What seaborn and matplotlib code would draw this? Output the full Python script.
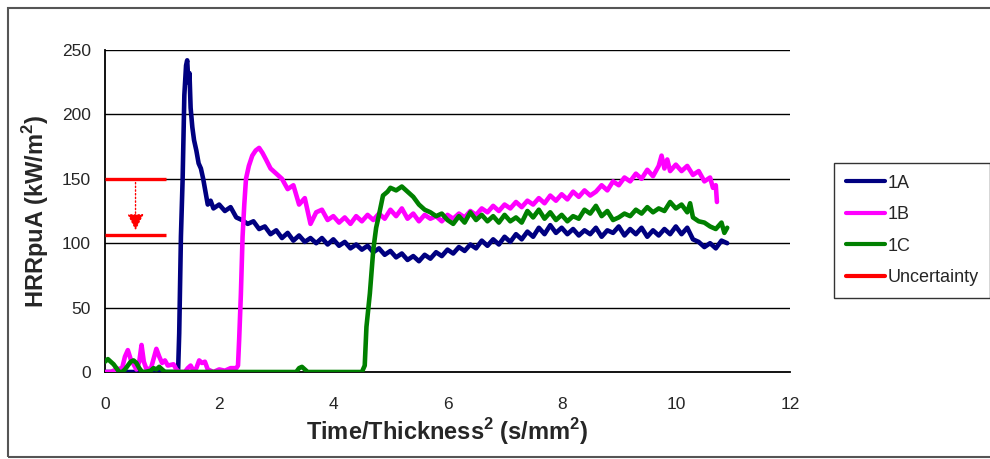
import numpy as np
import pandas as pd
import matplotlib
matplotlib.use("Agg")
import matplotlib.pyplot as plt
from matplotlib.patches import Rectangle
from matplotlib.lines import Line2D
import seaborn as sns

# ---------------- data ----------------
t_1a = [0.0, 0.5, 1.0, 1.28, 1.30, 1.33, 1.36, 1.39, 1.42, 1.44, 1.46, 1.48, 1.50, 1.53, 1.56,
        1.60, 1.64, 1.68, 1.72, 1.76, 1.80, 1.85, 1.90, 2.0,
        2.1, 2.2, 2.3, 2.4, 2.5, 2.6, 2.7, 2.8, 2.9, 3.0, 3.1, 3.2, 3.3, 3.4, 3.5, 3.6, 3.7, 3.8, 3.9,
        4.0, 4.1, 4.2, 4.3, 4.4, 4.5, 4.6, 4.7, 4.8, 4.9, 5.0, 5.1, 5.2, 5.3, 5.4, 5.5, 5.6, 5.7, 5.8,
        5.9, 6.0, 6.1, 6.2, 6.3, 6.4, 6.5, 6.6, 6.7, 6.8, 6.9, 7.0, 7.1, 7.2, 7.3, 7.4, 7.5, 7.6, 7.7,
        7.8, 7.9, 8.0, 8.1, 8.2, 8.3, 8.4, 8.5, 8.6, 8.7, 8.8, 8.9, 9.0, 9.1, 9.2, 9.3, 9.4, 9.5, 9.6,
        9.7, 9.8, 9.9, 10.0, 10.1, 10.2, 10.3, 10.4, 10.5, 10.6, 10.7, 10.8, 10.9]
v_1a = [0, 0, 0, 0, 30, 105, 150, 215, 238, 242, 225, 232, 205, 190, 180,
        172, 162, 158, 150, 140, 130, 133, 127, 130,
        125, 128, 120, 118, 115, 117, 111, 113, 107, 110, 104, 108, 102, 106, 101, 104, 100, 104, 99,
        103, 98, 101, 96, 99, 95, 98, 93, 96, 91, 94, 89, 92, 87, 90, 86, 91, 88, 93, 90,
        95, 92, 97, 94, 99, 96, 102, 98, 103, 99, 105, 101, 107, 103, 109, 105, 112, 107,
        114, 108, 112, 107, 111, 106, 110, 107, 112, 105, 110, 108, 113, 106, 111, 107, 112, 105, 110,
        106, 111, 107, 113, 107, 112, 103, 101, 97, 100, 96, 102, 100]

t_1b = [0.0, 0.1, 0.2, 0.3, 0.35, 0.4, 0.45, 0.5, 0.55, 0.6, 0.64, 0.68, 0.72, 0.8, 0.85, 0.9, 0.95,
        1.0, 1.05, 1.1, 1.2, 1.25, 1.3, 1.4, 1.45, 1.5, 1.55, 1.6, 1.65, 1.7, 1.75, 1.8, 1.9, 2.0,
        2.1, 2.2, 2.3, 2.33, 2.35, 2.38, 2.41, 2.44, 2.47, 2.52, 2.58, 2.64, 2.70, 2.76, 2.82, 2.9,
        3.0, 3.1, 3.2, 3.3, 3.4, 3.5, 3.6, 3.7, 3.8, 3.9, 4.0, 4.1, 4.2, 4.3, 4.4, 4.5, 4.6, 4.7,
        4.8, 4.9, 5.0, 5.1, 5.2, 5.3, 5.4, 5.5, 5.6, 5.7, 5.8, 5.9, 6.0, 6.1, 6.2, 6.3, 6.4, 6.5,
        6.6, 6.7, 6.8, 6.9, 7.0, 7.1, 7.2, 7.3, 7.4, 7.5, 7.6, 7.7, 7.8, 7.9, 8.0, 8.1, 8.2, 8.3,
        8.4, 8.5, 8.6, 8.7, 8.8, 8.9, 9.0, 9.1, 9.2, 9.3, 9.4, 9.5, 9.6, 9.7, 9.75, 9.8, 9.85, 9.9,
        10.0, 10.1, 10.2, 10.3, 10.4, 10.5, 10.6, 10.65, 10.7, 10.72]
v_1b = [0, 0, 2, 3, 12, 17, 10, 6, 2, 8, 21, 8, 3, 2, 10, 18, 12,
        7, 9, 5, 6, 2, 0, 0, 3, 5, 1, 3, 9, 7, 8, 2, 0, 2,
        1, 3, 3, 5, 25, 60, 105, 130, 150, 160, 168, 172, 174, 170, 165, 158,
        154, 150, 142, 145, 130, 135, 115, 124, 126, 118, 121, 116, 120, 115, 121, 117, 122, 118,
        123, 119, 126, 121, 127, 119, 123, 117, 122, 119, 121, 117, 122, 119, 123, 120, 125, 122,
        127, 124, 129, 125, 130, 127, 132, 128, 133, 130, 135, 131, 137, 133, 138, 134, 140, 136,
        141, 137, 140, 145, 141, 148, 145, 151, 148, 154, 150, 157, 152, 160, 168, 158, 165, 156,
        161, 156, 160, 153, 156, 148, 151, 143, 145, 132]

t_1c = [0.0, 0.05, 0.1, 0.15, 0.2, 0.25, 0.3, 0.35, 0.4, 0.45, 0.5, 0.55, 0.6, 0.65, 0.7, 0.8,
        0.85, 0.9, 0.95, 1.0, 1.05, 1.1, 3.35, 3.4, 3.45, 3.5, 3.55, 4.5, 4.55, 4.58, 4.64, 4.70,
        4.75, 4.8, 4.87, 4.95, 5.0, 5.1, 5.2, 5.3, 5.4, 5.5, 5.6, 5.7, 5.8, 5.9, 6.0, 6.1, 6.2, 6.3,
        6.4, 6.5, 6.6, 6.7, 6.8, 6.9, 7.0, 7.1, 7.2, 7.3, 7.4, 7.5, 7.6, 7.7, 7.8, 7.9, 8.0, 8.1,
        8.2, 8.3, 8.4, 8.5, 8.6, 8.7, 8.8, 8.9, 9.0, 9.1, 9.2, 9.3, 9.4, 9.5, 9.6, 9.7, 9.8, 9.9,
        10.0, 10.1, 10.2, 10.25, 10.3, 10.4, 10.5, 10.6, 10.7, 10.8, 10.85, 10.9]
v_1c = [8, 10, 8, 6, 3, 0, 0, 2, 5, 8, 9, 7, 3, 0, 0, 1,
        3, 2, 4, 2, 0, 0, 0, 3, 4, 2, 0, 0, 5, 35, 61, 95,
        112, 122, 137, 140, 143, 141, 144, 140, 136, 130, 126, 124, 121, 123, 118, 115, 121, 116,
        124, 118, 122, 117, 121, 116, 122, 117, 120, 116, 125, 120, 126, 119, 124, 118, 122, 117,
        121, 119, 126, 123, 129, 121, 125, 118, 120, 123, 121, 126, 123, 128, 124, 127, 125, 132,
        127, 130, 124, 131, 120, 117, 116, 113, 111, 116, 108, 112]

series_names = ["1A", "1B", "1C"]
series_colors = ["#000080", "#FF00FF", "#008000"]
unc_upper = 150
unc_lower = 106
unc_x_end = 1.07

x_ticks = [0, 2, 4, 6, 8, 10, 12]
y_ticks = [0, 50, 100, 150, 200, 250]

# ---------------- plot ----------------
sns.set_style("white")
plt.rcParams["font.family"] = ["Liberation Sans", "DejaVu Sans"]

df = pd.concat([
    pd.DataFrame({"t": t_1a, "v": v_1a, "s": "1A"}),
    pd.DataFrame({"t": t_1b, "v": v_1b, "s": "1B"}),
    pd.DataFrame({"t": t_1c, "v": v_1c, "s": "1C"}),
], ignore_index=True)

fig = plt.figure(figsize=(9.9, 4.59), dpi=100)
ax = fig.add_axes([105 / 990, (459 - 372) / 459, (790 - 105) / 990, (372 - 50) / 459])

for g in y_ticks[1:]:
    ax.axhline(g, color="black", lw=1.0, zorder=1)

sns.lineplot(data=df, x="t", y="v", hue="s", hue_order=series_names,
             palette=dict(zip(series_names, series_colors)), estimator=None,
             lw=3.3, ax=ax, legend=False, zorder=3)

# uncertainty marker
ax.plot([0, unc_x_end], [unc_upper, unc_upper], color="red", lw=2.4, zorder=4, solid_capstyle="butt")
ax.plot([0, unc_x_end], [unc_lower, unc_lower], color="red", lw=2.4, zorder=4, solid_capstyle="butt")
ax.annotate("", xy=(unc_x_end / 2, unc_lower + 4), xytext=(unc_x_end / 2, unc_upper),
            arrowprops=dict(arrowstyle="-|>,head_length=0.5,head_width=0.25", color="red",
                            lw=1.0, ls=":", shrinkA=0, shrinkB=0, mutation_scale=20), zorder=4)

ax.set_xlim(0, 12)
ax.set_ylim(0, 250)
ax.set_xticks(x_ticks)
ax.set_yticks(y_ticks)
ax.tick_params(axis="x", direction="out", length=5, width=1.2, color="black", pad=13, labelsize=12.5)
ax.tick_params(axis="y", direction="out", length=5, width=1.2, color="black", pad=5, labelsize=12.5)
for sp in ["top", "right"]:
    ax.spines[sp].set_visible(False)
for sp in ["left", "bottom"]:
    ax.spines[sp].set_color("black")
    ax.spines[sp].set_linewidth(1.3)

ax.set_xlabel("Time/Thickness$^\\mathregular{2}$ (s/mm$^\\mathregular{2}$)", fontsize=17,
              fontweight="bold", labelpad=3)
ax.set_ylabel("HRRpuA (kW/m$^\\mathregular{2}$)", fontsize=17, fontweight="bold", labelpad=8)

handles = [Line2D([], [], color=c, lw=3.0) for c in series_colors] + [Line2D([], [], color="red", lw=3.0)]
labels = series_names + ["Uncertainty"]
leg = fig.legend(handles, labels, loc="upper left", bbox_to_anchor=(834 / 990, 1 - 163 / 459),
                 fontsize=13, frameon=True, fancybox=False, edgecolor="black",
                 handlelength=2.2, handletextpad=0.1, labelspacing=0.8,
                 borderpad=0.65, borderaxespad=0)
leg.get_frame().set_linewidth(1.0)

fig.patches.append(Rectangle((8 / 990, 1 - 457 / 459), 1.0, (457 - 8) / 459,
                             transform=fig.transFigure, fill=False, edgecolor="#555555", lw=1.5))

fig.savefig("out.png", dpi=100)
